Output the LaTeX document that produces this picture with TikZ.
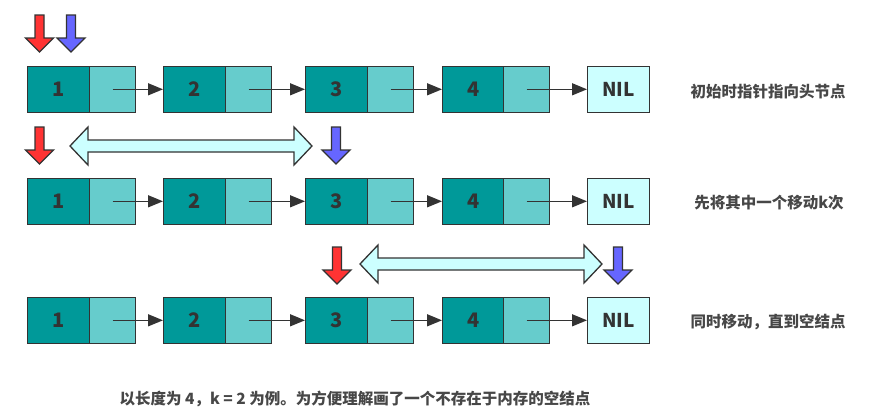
\documentclass[tikz,border=0pt]{standalone}
\usepackage{fontspec}
\setmainfont{Noto Sans CJK SC}
\usetikzlibrary{arrows.meta}
\definecolor{edge}{HTML}{333333}
\definecolor{datac}{HTML}{009999}
\definecolor{nextc}{HTML}{66CCCC}
\definecolor{nilc}{HTML}{CCFFFF}
\definecolor{redp}{HTML}{FF3333}
\definecolor{bluep}{HTML}{6666FF}
\tikzset{
  cellbox/.style={draw=edge, line width=1.4pt, inner sep=0pt, minimum height=46pt, anchor=south west},
  datacell/.style={cellbox, fill=datac, minimum width=62pt, font=\fontsize{20}{20}\selectfont\bfseries, text=edge},
  nextcell/.style={cellbox, fill=nextc, minimum width=46pt},
  nilcell/.style={cellbox, fill=nilc, minimum width=62pt, font=\fontsize{19}{19}\selectfont\bfseries, text=edge},
  link/.style={draw=edge, line width=1.4pt, -{Triangle[length=15pt,width=12pt]}},
  note/.style={font=\fontsize{15.5}{16}\selectfont\bfseries, text=edge!90},
  blk/.style={draw=edge, line width=1.3pt, line join=miter}
}
\newcommand\ptrdown[3]{% colour, center x, top y
  \filldraw[blk, fill=#1] (#2-4.5,#3) -- (#2+4.5,#3) -- (#2+4.5,#3+23) -- (#2+14,#3+23)
    -- (#2,#3+37) -- (#2-14,#3+23) -- (#2-4.5,#3+23) -- cycle;}
\newcommand\spanarrow[3]{% x1, x2, center y
  \filldraw[blk, fill=nilc] (#1,#3) -- (#1+18,#3-19) -- (#1+18,#3-6) -- (#2-18,#3-6) -- (#2-18,#3-19)
    -- (#2,#3) -- (#2-18,#3+19) -- (#2-18,#3+6) -- (#1+18,#3+6) -- (#1+18,#3+19) -- cycle;}
\begin{document}
\begin{tikzpicture}[x=1pt,y=-1pt]
\useasboundingbox[fill=white] (0,0) rectangle (870,416);
\foreach \r/\yb in {1/113, 2/225, 3/344}{
  \node[datacell] (d\r1) at (27,\yb) {1};
  \node[nextcell] (n\r1) at (89,\yb) {};
  \node[datacell] (d\r2) at (163,\yb) {2};
  \node[nextcell] (n\r2) at (225,\yb) {};
  \node[datacell] (d\r3) at (305,\yb) {3};
  \node[nextcell] (n\r3) at (367,\yb) {};
  \node[datacell] (d\r4) at (442,\yb) {4};
  \node[nextcell] (n\r4) at (503,\yb) {};
  \node[nilcell]  (nil\r) at (587,\yb) {NIL};
  \draw[link] (n\r1.center) -- (d\r2.west);
  \draw[link] (n\r2.center) -- (d\r3.west);
  \draw[link] (n\r3.center) -- (d\r4.west);
  \draw[link] (n\r4.center) -- (nil\r.west);
}
% pointers
\ptrdown{redp}{39.5}{15}
\ptrdown{bluep}{71}{15}
\ptrdown{redp}{39.5}{127}
\ptrdown{bluep}{336}{127}
\ptrdown{redp}{337}{247}
\ptrdown{bluep}{618}{247}
\spanarrow{70}{312}{146}
\spanarrow{360}{602}{264}
% notes
\node[note] (t1) at (768,92) {初始时指针指向头节点};
\node[note] (t2) at (769,203) {先将其中一个移动k次};
\node[note] (t3) at (768,322) {同时移动，直到空结点};
\node[note, anchor=west] (t4) at (116,399) {以长度为 4，k = 2 为例。为方便理解画了一个不存在于内存的空结点};
\end{tikzpicture}
\end{document}
